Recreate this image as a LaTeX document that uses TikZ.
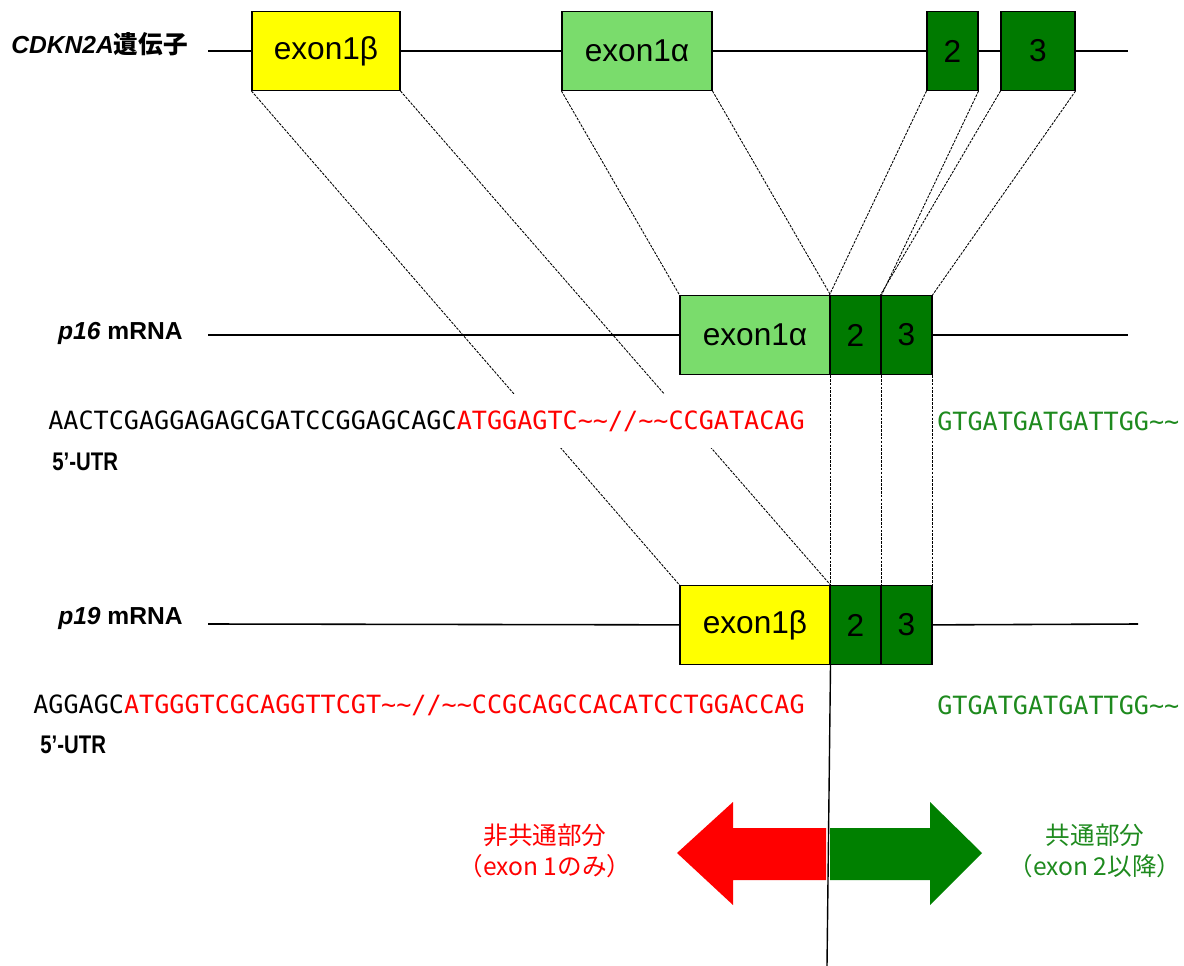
\documentclass[tikz,border=0pt]{standalone}
\usepackage{fontspec}
\setmainfont{Liberation Sans}
\newfontfamily\jpfont{Noto Sans CJK JP}
\newfontfamily\seqfont{DejaVu Sans Mono}
\newfontfamily\narrowfont[FakeStretch=0.8]{Liberation Sans}
\usepackage{tikz}
\definecolor{exyellow}{RGB}{255,255,0}
\definecolor{exlight}{RGB}{122,220,108}
\definecolor{exdark}{RGB}{0,122,0}
\definecolor{seqred}{RGB}{255,0,0}
\definecolor{seqgreen}{RGB}{30,138,30}
\definecolor{arrgreen}{RGB}{0,128,0}
\newcommand{\wav}{\textasciitilde}

\begin{document}
\begin{tikzpicture}[x=0.02cm,y=-0.02cm]
      \tikzstyle{exon}=[draw,line width=0.6pt,inner sep=0pt,minimum height=1.58cm,
			font=\fontsize{18}{20}\selectfont]
      \tikzstyle{splice}=[dash pattern=on 1.5pt off 0.7pt,line width=0.5pt]
      \tikzstyle{backbone}=[line width=0.9pt]
      \tikzstyle{seq}=[anchor=west,inner xsep=0pt,minimum height=1.1cm,fill=white,
			font=\seqfont\fontsize{14.3}{16}\selectfont]
      \tikzstyle{rowlabel}=[anchor=east,inner sep=0pt,font=\bfseries\fontsize{14}{16}\selectfont]
      \tikzstyle{utr}=[anchor=west,inner sep=0pt,font=\narrowfont\bfseries\fontsize{14.5}{16}\selectfont]
      \tikzstyle{part}=[align=center,font=\jpfont\fontsize{14}{17.6}\selectfont]
      \useasboundingbox (0,0) rectangle (1184,966);

      % gene
      \node (gene) [rowlabel] at (188,44) {\textit{CDKN2A}{\jpfont 遺伝子}};
      \coordinate (g0) at (208,51);
      \coordinate (g1) at (1128,51);
      \node (b1) [exon,fill=exyellow,minimum width=2.96cm] at (326,51) {exon1β};
      \node (a1) [exon,fill=exlight,minimum width=3.0cm] at (637,51) {exon1α};
      \node (e2) [exon,fill=exdark,minimum width=1.02cm] at (952.5,51) {2};
      \node (e3) [exon,fill=exdark,minimum width=1.48cm] at (1038,51) {3};
      \draw[backbone] (g0) -- (b1) (b1) -- (a1) (a1) -- (e2) (e2) -- (e3) (e3) -- (g1);

      % p16
      \node (p16) [rowlabel] at (183,333) {\textit{p16} mRNA};
      \coordinate (m0) at (208,335);
      \coordinate (m1) at (1128,335);
      \node (p1) [exon,fill=exlight,minimum width=3.0cm] at (755,335) {exon1α};
      \node (p2) [exon,fill=exdark,minimum width=1.02cm] at (855.5,335) {2};
      \node (p3) [exon,fill=exdark,minimum width=1.02cm] at (906.5,335) {3};
      \draw[backbone] (m0) -- (p1) (p3) -- (m1);

      % p19
      \node (p19) [rowlabel] at (183,618) {\textit{p19} mRNA};
      \coordinate (n0) at (208,624);
      \coordinate (n1) at (1138,624);
      \node (q1) [exon,fill=exyellow,minimum width=3.0cm] at (755,625) {exon1β};
      \node (q2) [exon,fill=exdark,minimum width=1.02cm] at (855.5,625) {2};
      \node (q3) [exon,fill=exdark,minimum width=1.02cm] at (906.5,625) {3};
      \draw[backbone] (n0) -- (q1) (q3) -- (n1);

      \draw[splice] (b1.south west) -- (q1.north west);
      \draw[splice] (b1.south east) -- (q1.north east);
      \draw[splice] (a1.south west) -- (p1.north west);
      \draw[splice] (a1.south east) -- (p1.north east);
      \draw[splice] (e2.south west) -- (p2.north west);
      \draw[splice] (e2.south east) -- (p2.north east);
      \draw[splice] (e3.south west) -- (p3.north west);
      \draw[splice] (e3.south east) -- (p3.north east);
      \draw[splice] (p1.south east) -- (q1.north east);
      \draw[splice] (p2.south east) -- (q2.north east);
      \draw[splice] (p3.south east) -- (q3.north east);

      % sequences
      \node (s16) [seq] at (48,421) {AACTCGAGGAGAGCGATCCGGAGCAGC{\color{seqred}ATGGAGTC\wav\wav//\wav\wav CCGATACAG}};
      \node (c16) [seq,text=seqgreen] at (937,421) {GTGATGATGATTGG\wav\wav};
      \node (u16) [utr] at (52,462) {5’-UTR};
      \node (s19) [seq] at (33,705) {AGGAGC{\color{seqred}ATGGGTCGCAGGTTCGT\wav\wav//\wav\wav CCGCAGCCACATCCTGGACCAG}};
      \node (c19) [seq,text=seqgreen] at (937,705) {GTGATGATGATTGG\wav\wav};
      \node (u19) [utr] at (40,745) {5’-UTR};

      % arrows
      \fill[seqred] (826,828) -- (733,828) -- (733,802) -- (677,853) -- (733,905)
	  -- (733,880) -- (826,880) -- cycle;
      \fill[arrgreen] (830,828) -- (930,828) -- (930,802) -- (982,853) -- (930,905)
	  -- (930,880) -- (830,880) -- cycle;
      \coordinate (cut) at (827,966);
      \draw[line width=0.8pt] (q1.south east) -- (cut);
      \node (diff) [part,text=seqred] at (545,851) {非共通部分\\（exon 1のみ）};
      \node (same) [part,text=seqgreen] at (1095,851) {共通部分\\（exon 2以降）};
  \end{tikzpicture}
\end{document}
